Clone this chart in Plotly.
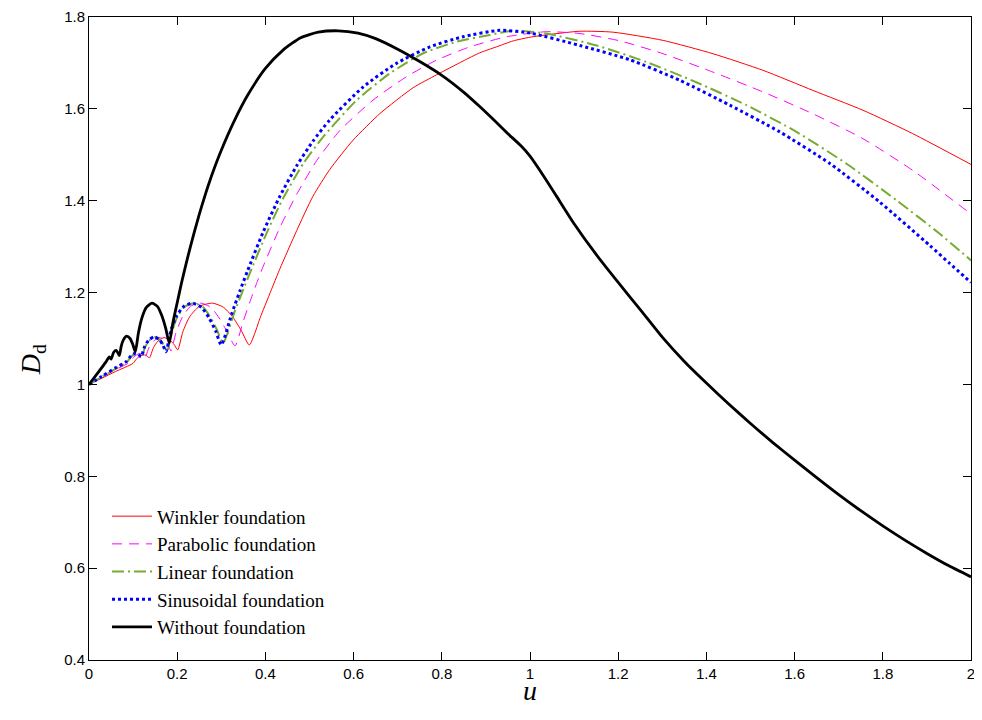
import plotly.graph_objects as go

# ---- data ----
u_winkler = [0, 0.03, 0.06, 0.10, 0.108, 0.118, 0.128, 0.137, 0.146, 0.156, 0.170, 0.184, 0.193, 0.201,
             0.213, 0.228, 0.25, 0.28, 0.305, 0.325, 0.345, 0.3635, 0.39, 0.416, 0.433, 0.471, 0.508,
             0.546, 0.599, 0.66, 0.735, 0.788, 0.848, 0.886, 0.924, 0.962, 1.0, 1.045, 1.113, 1.188,
             1.302, 1.415, 1.528, 1.642, 1.755, 1.868, 2.0]
d_winkler = [1.0, 1.014, 1.028, 1.046, 1.056, 1.063, 1.064, 1.058, 1.080, 1.094, 1.102, 1.096, 1.087, 1.075,
             1.115, 1.147, 1.170, 1.177, 1.168, 1.148, 1.118, 1.086, 1.150, 1.212, 1.252, 1.335, 1.410,
             1.468, 1.532, 1.590, 1.646, 1.674, 1.704, 1.722, 1.735, 1.748, 1.756, 1.762, 1.769, 1.767,
             1.749, 1.720, 1.684, 1.640, 1.597, 1.546, 1.479]

u_parabolic = [0, 0.03, 0.06, 0.092, 0.102, 0.113, 0.121, 0.127, 0.136, 0.146, 0.160, 0.173, 0.180, 0.186,
               0.197, 0.212, 0.230, 0.254, 0.276, 0.295, 0.313, 0.331, 0.35, 0.365, 0.38, 0.395, 0.433,
               0.471, 0.516, 0.569, 0.644, 0.720, 0.788, 0.864, 0.947, 1.037, 1.113, 1.204, 1.302, 1.415,
               1.528, 1.642, 1.755, 1.868, 2.0]
d_parabolic = [1.0, 1.016, 1.032, 1.048, 1.060, 1.067, 1.065, 1.059, 1.080, 1.094, 1.102, 1.096, 1.085, 1.073,
               1.112, 1.147, 1.170, 1.177, 1.168, 1.145, 1.115, 1.084, 1.138, 1.180, 1.220, 1.257, 1.342,
               1.414, 1.487, 1.553, 1.619, 1.670, 1.706, 1.735, 1.757, 1.768, 1.764, 1.748, 1.720, 1.680,
               1.637, 1.589, 1.535, 1.466, 1.371]

u_linear = [0, 0.03, 0.06, 0.086, 0.096, 0.106, 0.113, 0.119, 0.127, 0.136, 0.149, 0.161, 0.170, 0.177,
            0.188, 0.201, 0.218, 0.239, 0.259, 0.276, 0.291, 0.304, 0.33, 0.35, 0.365, 0.403, 0.44, 0.486,
            0.531, 0.607, 0.682, 0.758, 0.833, 0.909, 0.962, 1.037, 1.151, 1.264, 1.377, 1.491, 1.604,
            1.717, 1.831, 1.929, 2.0]
d_linear = [1.0, 1.017, 1.034, 1.049, 1.061, 1.067, 1.065, 1.059, 1.081, 1.095, 1.103, 1.097, 1.085, 1.072,
            1.115, 1.148, 1.170, 1.177, 1.168, 1.145, 1.117, 1.090, 1.158, 1.207, 1.243, 1.330, 1.405, 1.481,
            1.539, 1.619, 1.677, 1.721, 1.746, 1.761, 1.770, 1.764, 1.738, 1.702, 1.658, 1.608, 1.550,
            1.481, 1.401, 1.328, 1.270]

u_sinusoidal = [0, 0.03, 0.06, 0.085, 0.095, 0.105, 0.112, 0.118, 0.126, 0.135, 0.148, 0.160, 0.168, 0.1745,
                0.185, 0.198, 0.215, 0.235, 0.255, 0.272, 0.287, 0.300, 0.323, 0.342, 0.359, 0.395, 0.433,
                0.471, 0.508, 0.546, 0.622, 0.697, 0.773, 0.848, 0.932, 1.0, 1.113, 1.226, 1.34, 1.453,
                1.566, 1.68, 1.793, 1.906, 1.951, 2.0]
d_sinusoidal = [1.0, 1.018, 1.036, 1.050, 1.062, 1.068, 1.066, 1.060, 1.082, 1.096, 1.104, 1.097, 1.085, 1.071,
                1.115, 1.148, 1.170, 1.177, 1.168, 1.145, 1.117, 1.086, 1.152, 1.203, 1.246, 1.332, 1.410,
                1.476, 1.530, 1.576, 1.648, 1.699, 1.735, 1.757, 1.771, 1.765, 1.738, 1.707, 1.662, 1.608,
                1.550, 1.481, 1.397, 1.303, 1.264, 1.222]

u_without = [0, 0.02, 0.0385, 0.046, 0.050, 0.056, 0.0615, 0.066, 0.069, 0.073, 0.078, 0.0854, 0.093, 0.099,
             0.105, 0.112, 0.120, 0.130, 0.1428, 0.155, 0.165, 0.174, 0.182, 0.19, 0.20, 0.21, 0.22, 0.23,
             0.24, 0.25, 0.26, 0.27, 0.28, 0.30, 0.33, 0.36, 0.40, 0.44, 0.48, 0.52, 0.565, 0.61, 0.65,
             0.70, 0.75, 0.80, 0.85, 0.886, 0.92, 0.95, 0.98, 1.00, 1.03, 1.06, 1.10, 1.15, 1.20, 1.25,
             1.30, 1.35, 1.40, 1.45, 1.50, 1.55, 1.60, 1.65, 1.70, 1.75, 1.80, 1.85, 1.90, 1.95, 2.0]
d_without = [1.0, 1.025, 1.049, 1.060, 1.055, 1.070, 1.074, 1.068, 1.063, 1.083, 1.097, 1.105, 1.100, 1.088,
             1.071, 1.112, 1.145, 1.168, 1.177, 1.170, 1.150, 1.122, 1.090, 1.133, 1.178, 1.222, 1.262, 1.300,
             1.336, 1.370, 1.402, 1.432, 1.460, 1.510, 1.575, 1.630, 1.688, 1.728, 1.755, 1.767, 1.770,
             1.765, 1.753, 1.730, 1.703, 1.673, 1.636, 1.605, 1.574, 1.546, 1.519, 1.497, 1.455, 1.410,
             1.350, 1.283, 1.222, 1.163, 1.103, 1.050, 1.003, 0.958, 0.915, 0.874, 0.835, 0.797, 0.760,
             0.725, 0.692, 0.661, 0.632, 0.605, 0.581]

x_ticks = [0, 0.2, 0.4, 0.6, 0.8, 1, 1.2, 1.4, 1.6, 1.8, 2]
y_ticks = [0.4, 0.6, 0.8, 1, 1.2, 1.4, 1.6, 1.8]

series = [
    ("Winkler foundation", u_winkler, d_winkler, "#FF0000", 1.0, "solid"),
    ("Parabolic foundation", u_parabolic, d_parabolic, "#FF00FF", 1.0, "10px,7px"),
    ("Linear foundation", u_linear, d_linear, "#77AC30", 2.0, "12px,4px,2px,4px"),
    ("Sinusoidal foundation", u_sinusoidal, d_sinusoidal, "#0000FF", 3.0, "3px,3px"),
    ("Without foundation", u_without, d_without, "#000000", 2.8, "solid"),
]

fig = go.Figure()
for name, x, y, color, w, dash in series:
    fig.add_trace(go.Scatter(x=x, y=y, mode="lines", name=name,
                             line=dict(color=color, width=w, dash=dash, shape="spline", smoothing=0.6)))

axis_common = dict(showline=True, linecolor="black", linewidth=1, mirror="allticks",
                   ticks="inside", ticklen=8, tickcolor="black", showgrid=False, zeroline=False,
                   automargin=False,
                   tickfont=dict(family="Liberation Sans, Arial", size=15, color="black"))

fig.update_xaxes(range=[0, 2], tickvals=x_ticks, **axis_common)
fig.update_yaxes(range=[0.4, 1.8], tickvals=y_ticks, **axis_common)

title_font = dict(family="Liberation Serif, Times New Roman", size=28, color="black")
fig.add_annotation(text="<i>u</i>", xref="paper", yref="paper", x=0.5, y=-0.048,
                   xanchor="center", yanchor="middle", showarrow=False, font=title_font)
fig.add_annotation(text="<i>D</i><sub>d</sub>", xref="paper", yref="paper", x=-0.064, y=0.467,
                   xanchor="center", yanchor="middle", showarrow=False, textangle=-90, font=title_font)

# the page body adds an 8px offset, so the figure is 8px smaller and margins are shifted
fig.update_layout(
    width=974, height=712,
    margin=dict(l=81, r=11, t=9, b=60, autoexpand=False),
    paper_bgcolor="white", plot_bgcolor="white",
    showlegend=True,
    legend=dict(x=0.0204, y=0.253, xanchor="left", yanchor="top",
                bgcolor="rgba(255,255,255,0)", borderwidth=0,
                font=dict(family="Liberation Serif, Times New Roman", size=19, color="black"),
                tracegroupgap=0, itemwidth=40),
)

fig.write_html("out.html")
